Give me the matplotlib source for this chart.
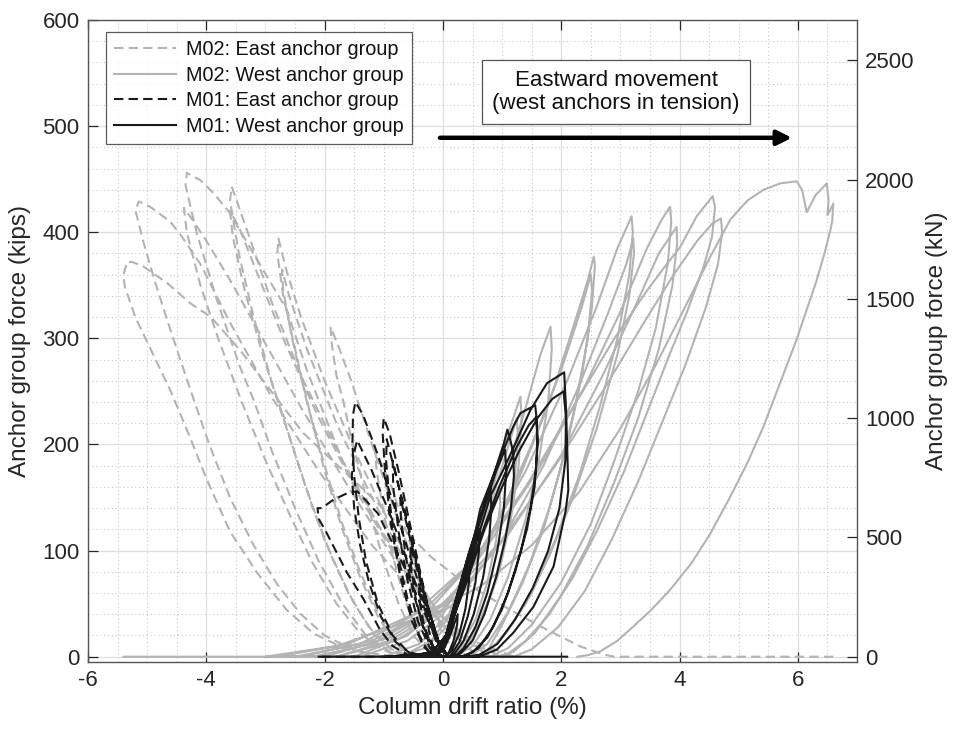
import matplotlib
matplotlib.use("Agg")
import matplotlib.pyplot as plt
from matplotlib.ticker import MultipleLocator

plt.rcParams['font.family'] = ['Liberation Sans', 'DejaVu Sans']
plt.rcParams['axes.unicode_minus'] = False

# ---------------- data (drift %, force kips) ----------------
# M02: East anchor group (gray dashed) - loops concatenated along zero force
m02_east_x = [6.6, 2.9,
    2.72, 2.32, 1.76, 1.14, 0.29, -0.21, -1.2, -2.36, -2.75, -3.09, -3.43, -3.93, -4.27, -4.66, -5.06, -5.25, -5.34, -5.4, -5.38, -5.2, -4.9, -4.6, -4.3, -4.0, -3.6, -3.14, -2.64, -2.19, -1.62, -1.06, -0.8,
    1.2, 0.5, -0.3, -1.2, -2.1, -2.9, -3.6, -4.1, -4.44, -4.61, -4.95, -5.14, -5.2, -5.06, -4.86, -4.66, -4.44, -4.21, -3.95, -3.6, -3.2, -2.8, -2.4, -2.0, -1.5, -1.0,
    1.0, 0.4, -0.3, -1.0, -1.7, -2.3, -2.64, -3.14, -3.6, -3.88, -4.1, -4.33, -4.35, -4.25, -4.16, -3.82, -3.43, -3.2, -2.9, -2.5, -2.1, -1.7, -1.3, -0.9, -0.6,
    0.8, 0.0, -0.8, -1.6, -2.4, -3.1, -3.6, -4.0, -4.25, -4.38, -4.33, -4.1, -3.8, -3.4, -3.0, -2.6, -2.2, -1.8, -1.4, -1.0, -0.7,
    0.8, 0.3, -0.3, -1.0, -1.7, -2.4, -2.9, -3.3, -3.57, -3.6, -3.45, -3.2, -2.9, -2.55, -2.2, -1.85, -1.5, -1.15, -0.8, -0.5,
    0.6, 0.0, -0.7, -1.4, -2.1, -2.7, -3.2, -3.45, -3.6, -3.55, -3.35, -3.05, -2.7, -2.35, -2.0, -1.6, -1.25, -0.9, -0.6,
    0.6, 0.2, -0.3, -0.9, -1.5, -2.0, -2.4, -2.65, -2.78, -2.8, -2.7, -2.5, -2.25, -2.0, -1.7, -1.4, -1.1, -0.8, -0.5,
    0.5, 0.0, -0.6, -1.2, -1.8, -2.3, -2.6, -2.72, -2.7, -2.55, -2.3, -2.0, -1.7, -1.4, -1.1, -0.8, -0.55,
    0.4, 0.0, -0.4, -0.8, -1.2, -1.55, -1.75, -1.9, -1.88, -1.8, -1.68, -1.57, -1.4, -1.23, -1.0, -0.75, -0.5, -0.25, 0.0,
    0.3, 0.0, -0.3, -0.6, -0.9, -1.15, -1.12, -1.0, -0.85, -0.65, -0.45, -0.25, -0.05]
m02_east_y = [0, 0,
    2, 9.7, 25.4, 44, 72.5, 94.5, 150, 210.7, 239, 264, 289, 320.5, 333, 352, 367.6, 372, 372, 360, 349, 320, 285, 250, 210, 168, 118, 79, 44, 22, 6.6, 2, 0,
    0, 15, 50, 105, 175, 245, 315, 370, 398, 410, 424, 429, 421, 390, 352, 317, 280, 242, 200, 150, 105, 68, 40, 20, 6, 0,
    0, 15, 55, 115, 185, 270, 327, 374, 418, 437, 449, 456, 444, 420, 399, 336, 273, 242, 195, 140, 90, 50, 20, 5, 0,
    0, 30, 90, 160, 235, 305, 355, 392, 413, 423, 400, 350, 300, 240, 185, 135, 88, 50, 22, 6, 0,
    0, 20, 55, 115, 185, 265, 335, 400, 443, 430, 380, 320, 260, 200, 140, 90, 50, 20, 5, 0,
    0, 30, 85, 150, 225, 300, 370, 405, 420, 395, 345, 285, 225, 165, 110, 60, 28, 8, 0,
    0, 20, 60, 125, 195, 260, 320, 365, 394, 380, 340, 290, 230, 175, 120, 75, 38, 12, 0,
    0, 30, 85, 150, 220, 290, 340, 365, 345, 300, 240, 180, 125, 80, 42, 14, 0,
    0, 25, 75, 135, 200, 260, 290, 311, 295, 265, 240, 211, 173, 135, 90, 50, 20, 5, 0,
    0, 20, 60, 115, 165, 195, 175, 135, 95, 55, 25, 8, 0]

# M02: West anchor group (gray solid)
m02_west_x = [-5.4,
    -0.8, -0.3, 0.1, 0.4, 0.7, 0.95, 0.97, 0.9, 0.75, 0.55, 0.3, 0.1,
    -1.0, -0.4, 0.1, 0.5, 0.85, 1.1, 1.31, 1.33, 1.28, 1.15, 0.95, 0.7, 0.45, 0.2, 0.0,
    -0.7, -0.2, 0.2, 0.6, 0.95, 1.25, 1.27, 1.2, 1.05, 0.85, 0.6, 0.35, 0.1,
    -1.4, -0.6, 0.0, 0.5, 1.0, 1.4, 1.65, 1.82, 1.84, 1.78, 1.62, 1.4, 1.1, 0.8, 0.5, 0.2,
    -1.8, -0.9, 0.0, 0.7, 1.3, 1.8, 2.2, 2.45, 2.55, 2.57, 2.52, 2.35, 2.1, 1.8, 1.45, 1.1, 0.75, 0.45,
    -1.5, -0.6, 0.2, 0.9, 1.5, 2.0, 2.35, 2.5, 2.52, 2.45, 2.25, 2.0, 1.7, 1.35, 1.0, 0.7,
    -2.2, -1.2, -0.3, 0.6, 1.4, 2.1, 2.6, 2.95, 3.19, 3.21, 3.15, 2.95, 2.65, 2.3, 1.9, 1.5, 1.1, 0.7,
    -1.8, -0.8, 0.2, 1.0, 1.7, 2.3, 2.8, 3.1, 3.22, 3.23, 3.15, 2.95, 2.6, 2.2, 1.8, 1.4, 1.0, 0.7,
    -2.5, -1.4, -0.3, 0.7, 1.6, 2.4, 3.0, 3.45, 3.7, 3.84, 3.86, 3.8, 3.6, 3.3, 2.9, 2.5, 2.0, 1.5, 1.1, 0.8,
    -2.0, -0.9, 0.2, 1.1, 2.0, 2.7, 3.25, 3.65, 3.95, 3.96, 3.88, 3.65, 3.3, 2.9, 2.45, 2.0, 1.55, 1.2, 1.0,
    -2.8, -1.6, -0.5, 0.5, 1.4, 2.2, 2.9, 3.45, 3.73, 4.01, 4.29, 4.56, 4.6, 4.55, 4.41, 4.12, 3.84, 3.45, 3.05, 2.6, 2.2, 1.8, 1.4, 1.1, 0.9,
    -2.4, -1.2, 0.0, 1.0, 1.9, 2.7, 3.4, 3.9, 4.3, 4.55, 4.70, 4.72, 4.65, 4.45, 4.1, 3.7, 3.3, 2.85, 2.4, 1.95, 1.5, 1.2,
    -3.0, -1.8, -0.5, 0.63, 1.5, 2.3, 3.0, 3.6, 4.18, 4.52, 4.86, 5.15, 5.42, 5.7, 5.98, 6.07, 6.15, 6.3, 6.49, 6.52, 6.5, 6.6, 6.58, 6.55, 6.45, 6.32, 6.15, 5.98, 5.7, 5.42, 5.15, 4.86, 4.52, 4.2, 3.84, 3.52, 3.22, 2.95, 2.66, 2.45, 2.27]
m02_west_y = [0,
    0, 8, 30, 70, 120, 160, 145, 110, 70, 35, 10, 0,
    0, 12, 40, 95, 160, 210, 245, 225, 180, 130, 80, 40, 15, 3, 0,
    0, 15, 45, 105, 170, 225, 205, 160, 110, 65, 30, 8, 0,
    0, 15, 40, 90, 160, 235, 285, 311, 290, 240, 185, 130, 75, 35, 10, 0,
    0, 15, 45, 100, 170, 240, 310, 355, 377, 369, 330, 265, 200, 140, 85, 42, 12, 0,
    0, 20, 60, 125, 200, 270, 330, 360, 345, 300, 240, 180, 120, 70, 30, 0,
    0, 12, 40, 95, 175, 260, 330, 385, 415, 400, 360, 300, 235, 170, 110, 60, 25, 0,
    0, 15, 50, 110, 180, 255, 325, 370, 394, 380, 340, 285, 215, 150, 95, 50, 18, 0,
    0, 12, 45, 100, 175, 255, 325, 385, 412, 424, 410, 370, 310, 250, 185, 125, 70, 30, 8, 0,
    0, 18, 55, 115, 190, 265, 330, 380, 405, 390, 350, 290, 225, 165, 105, 58, 22, 5, 0,
    0, 12, 40, 90, 160, 235, 300, 345, 366, 386, 415, 434, 424, 396, 368, 324, 286, 230, 173, 118, 75, 40, 15, 3, 0,
    0, 15, 50, 110, 180, 250, 315, 360, 392, 408, 413, 400, 370, 330, 275, 220, 165, 110, 62, 28, 7, 0,
    0, 10, 35, 66, 105, 155, 215, 275, 339, 377, 412, 430, 440, 446, 448, 440, 419, 435, 446, 430, 416, 427, 410, 402, 380, 355, 327, 299, 258, 217, 183, 151, 116, 88, 63, 44, 28.5, 15, 5, 1.5, 0]

# M01: East anchor group (black dashed)
m01_east_x = [0.5,
    0.1, 0.0, -0.12, -0.25, -0.24, -0.18, -0.1, 0.0,
    0.1, -0.05, -0.2, -0.4, -0.39, -0.32, -0.22, -0.1, 0.0,
    0.1, -0.05, -0.3, -0.55, -0.54, -0.46, -0.34, -0.2, -0.05,
    0.1, -0.05, -0.3, -0.55, -0.72, -0.71, -0.63, -0.5, -0.33, -0.15, 0.0,
    0.1, -0.05, -0.3, -0.6, -0.85, -0.84, -0.75, -0.6, -0.42, -0.22, -0.05,
    0.1, -0.05, -0.25, -0.5, -0.75, -0.9, -1.0, -1.02, -0.98, -0.88, -0.72, -0.52, -0.32, -0.12,
    0.1, -0.1, -0.4, -0.7, -0.95, -0.96, -0.9, -0.78, -0.6, -0.4, -0.2,
    0.1, -0.05, -0.3, -0.7, -1.1, -1.35, -1.48, -1.52, -1.53, -1.5, -1.42, -1.3, -1.1, -0.85, -0.6, -0.3,
    0.1, -0.1, -0.5, -0.9, -1.2, -1.45, -1.51, -1.54, -1.5, -1.4, -1.25, -1.05, -0.8, -0.55, -0.3,
    0.1, -0.05, -0.3, -0.7, -1.1, -1.45, -1.62, -1.85, -2.05, -2.12, -2.1, -1.96, -1.62, -1.34, -1.06, -0.85, -0.6, -0.3,
    -2.1]
m01_east_y = [0,
    0, 5, 18, 35, 25, 12, 3, 0,
    0, 8, 30, 65, 50, 30, 14, 3, 0,
    0, 10, 55, 105, 85, 55, 28, 8, 0,
    0, 10, 55, 110, 150, 130, 95, 60, 28, 7, 0,
    0, 10, 55, 125, 185, 160, 118, 72, 33, 8, 0,
    0, 10, 45, 110, 175, 210, 225, 212, 175, 125, 75, 33, 9, 0,
    0, 15, 80, 150, 205, 185, 145, 100, 55, 20, 0,
    0, 10, 50, 120, 190, 228, 240, 228, 200, 170, 130, 90, 50, 20, 5, 0,
    0, 12, 75, 135, 175, 204, 190, 170, 140, 105, 70, 38, 14, 3, 0,
    0, 10, 40, 90, 135, 156, 154, 148, 140, 140, 130, 116, 79, 54, 25, 10, 2, 0,
    0]

# M01: West anchor group (black solid)
m01_west_x = [-2.1,
    -0.3, 0.0, 0.12, 0.25, 0.24, 0.18, 0.1, 0.02,
    -0.4, 0.0, 0.15, 0.3, 0.45, 0.44, 0.38, 0.28, 0.15, 0.05,
    -0.5, 0.0, 0.2, 0.4, 0.62, 0.61, 0.55, 0.42, 0.28, 0.12,
    -0.6, -0.1, 0.05, 0.25, 0.45, 0.65, 0.8, 0.82, 0.78, 0.68, 0.52, 0.35, 0.2, 0.1,
    -0.7, -0.1, 0.05, 0.2, 0.4, 0.6, 0.85, 1.03, 1.09, 1.14, 1.19, 1.2, 1.15, 1.05, 0.9, 0.7, 0.5, 0.3, 0.15,
    -0.5, 0.0, 0.2, 0.45, 0.7, 0.9, 1.05, 1.07, 1.03, 0.92, 0.75, 0.55, 0.35, 0.2,
    -0.9, -0.2, 0.05, 0.25, 0.52, 0.63, 0.91, 1.19, 1.31, 1.56, 1.58, 1.6, 1.57, 1.48, 1.32, 1.1, 0.85, 0.6, 0.35,
    -0.8, -0.1, 0.1, 0.35, 0.65, 0.95, 1.25, 1.45, 1.58, 1.6, 1.55, 1.42, 1.22, 1.0, 0.75, 0.5, 0.3,
    -1.0, -0.2, 0.05, 0.3, 0.55, 0.8, 1.02, 1.25, 1.48, 1.76, 2.05, 2.08, 2.1, 2.12, 2.07, 1.87, 1.53, 1.19, 0.91, 0.6,
    -0.9, -0.1, 0.1, 0.4, 0.7, 1.0, 1.3, 1.6, 1.85, 2.04, 2.08, 2.07, 1.97, 1.78, 1.52, 1.22, 0.92, 0.62, 0.4,
    2.1]
m01_west_y = [0,
    0, 5, 20, 40, 30, 15, 4, 0,
    0, 6, 30, 60, 85, 70, 45, 22, 6, 0,
    0, 8, 40, 80, 120, 100, 70, 38, 14, 0,
    0, 3, 20, 60, 100, 135, 160, 140, 110, 75, 40, 15, 3, 0,
    0, 3, 20, 50, 90, 125, 170, 201, 214, 204, 192, 170, 140, 110, 75, 40, 15, 3, 0,
    0, 8, 45, 95, 140, 175, 195, 175, 140, 100, 60, 28, 8, 0,
    0, 3, 20, 55, 110, 139, 179, 217, 229.5, 237, 226, 205, 175, 140, 100, 60, 28, 8, 0,
    0, 4, 25, 65, 115, 160, 198, 218, 226, 200, 160, 120, 80, 45, 18, 4, 0,
    0, 3, 20, 60, 105, 151, 176, 204, 232.6, 257.8, 268, 235, 200, 157, 136, 85, 47, 22.6, 6.6, 0,
    0, 4, 25, 70, 120, 160, 195, 225, 243, 250, 225, 185, 140, 100, 65, 35, 12, 2, 0,
    0]

series_labels = ["M02: East anchor group", "M02: West anchor group",
                 "M01: East anchor group", "M01: West anchor group"]
annotation_text = "Eastward movement\n(west anchors in tension)"
KIP_TO_KN = 4.448

# ---------------- figure ----------------
fig = plt.figure(figsize=(9.56, 7.34), dpi=100)
ax = fig.add_axes([88/956, 1 - 662/734, (857 - 88)/956, (662 - 20)/734])

gray = '#b3b3b3'
black = '#1a1a1a'
dash = (0, (4.5, 2.5))
lw = 1.5

ax.plot(m02_east_x, m02_east_y, color=gray, lw=lw, linestyle=dash, label=series_labels[0])
ax.plot(m02_west_x, m02_west_y, color=gray, lw=lw, linestyle='-', label=series_labels[1])
ax.plot(m01_east_x, m01_east_y, color=black, lw=lw, linestyle=dash, label=series_labels[2])
ax.plot(m01_west_x, m01_west_y, color=black, lw=lw, linestyle='-', label=series_labels[3])

ax.set_xlim(-6, 7)
ax.set_ylim(-5, 600)
ax.xaxis.set_major_locator(MultipleLocator(2))
ax.xaxis.set_minor_locator(MultipleLocator(0.5))
ax.yaxis.set_major_locator(MultipleLocator(100))
ax.yaxis.set_minor_locator(MultipleLocator(20))
ax.grid(which='major', color='#dddddd', lw=0.9, linestyle='-')
ax.grid(which='minor', color='#c8c8c8', lw=0.8, linestyle=(0, (1, 2.5)))
ax.set_axisbelow(True)

axcol = '#262626'
for s in ax.spines.values():
    s.set_color('#555555')
    s.set_linewidth(1.0)
ax.tick_params(which='major', direction='in', length=7, width=0.9, top=True, right=True,
               labelsize=16, colors=axcol, pad=6)
ax.tick_params(which='minor', length=0)

ax.set_xlabel('Column drift ratio (%)', fontsize=17.5, color=axcol, labelpad=4)
ax.set_ylabel('Anchor group force (kips)', fontsize=17.5, color=axcol, labelpad=8)

ax2 = ax.twinx()
ax2.set_ylim(-5 * KIP_TO_KN, 600 * KIP_TO_KN)
ax2.yaxis.set_major_locator(MultipleLocator(500))
ax2.tick_params(direction='in', length=7, width=0.9, labelsize=16, colors=axcol, pad=6)
ax2.set_ylabel('Anchor group force (kN)', fontsize=17.5, color=axcol, labelpad=8)
for s in ax2.spines.values():
    s.set_visible(False)

# annotation arrow and text box
ax.annotate('', xy=(5.9, 489), xytext=(-0.05, 489),
            arrowprops=dict(arrowstyle='-|>', lw=3.2, color='black', mutation_scale=22,
                            shrinkA=0, shrinkB=0))
ax.text(2.93, 532, annotation_text, ha='center', va='center', fontsize=16, color='#111111',
        linespacing=1.15,
        bbox=dict(boxstyle='square,pad=0.45', fc='white', ec='#555555', lw=0.9))

leg = ax.legend(loc='upper left', bbox_to_anchor=(0.024, 0.981), borderaxespad=0,
                fontsize=14.3, frameon=True, fancybox=False, handlelength=3.1,
                handletextpad=0.5, labelspacing=0.33, borderpad=0.4)
leg.get_frame().set_edgecolor('#333333')
leg.get_frame().set_linewidth(0.9)
for t in leg.get_texts():
    t.set_color('#111111')

fig.savefig('out.png', dpi=100)
